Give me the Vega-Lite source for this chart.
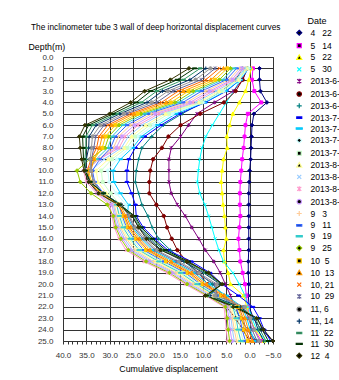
{
"$schema":"https://vega.github.io/schema/vega-lite/v6.json",
"width":210,"height":284,
"autosize":{"type":"none"},
"padding":{"left":63,"top":57,"right":66,"bottom":39},
"background":"white",
"title":{"text":"The inclinometer tube 3 wall of deep horizontal displacement curves","anchor":"start","frame":"group","dx":-32,"dy":18,"fontSize":8.3,"fontWeight":"normal","font":"Liberation Sans","color":"#000","offset":4},
"config":{"font":"Liberation Sans","view":{"stroke":"#333","strokeWidth":1}},
"data":{"values":[
{"s":"4 22","d":1,"v":-2.1},{"s":"4 22","d":2,"v":-2.1},{"s":"4 22","d":3,"v":-2.3},{"s":"4 22","d":4,"v":-3.7},{"s":"4 22","d":5,"v":-0.9},{"s":"4 22","d":6,"v":-0.5},{"s":"4 22","d":7,"v":-0.4},{"s":"4 22","d":8,"v":-0.3},{"s":"4 22","d":9,"v":-0.2},{"s":"4 22","d":10,"v":0.0},{"s":"4 22","d":11,"v":0.1},{"s":"4 22","d":12,"v":0.2},{"s":"4 22","d":13,"v":0.2},{"s":"4 22","d":14,"v":0.2},{"s":"4 22","d":15,"v":0.2},{"s":"4 22","d":16,"v":0.2},{"s":"4 22","d":17,"v":0.2},{"s":"4 22","d":18,"v":0.3},{"s":"4 22","d":19,"v":0.3},{"s":"4 22","d":20,"v":0.2},{"s":"4 22","d":21,"v":0.3},{"s":"4 22","d":22,"v":0.1},{"s":"4 22","d":23,"v":-0.8},{"s":"4 22","d":24,"v":-2.5},{"s":"4 22","d":25,"v":-5.0},
{"s":"5 14","d":1,"v":-0.7},{"s":"5 14","d":2,"v":-0.5},{"s":"5 14","d":3,"v":-1.0},{"s":"5 14","d":4,"v":-2.5},{"s":"5 14","d":5,"v":0.4},{"s":"5 14","d":6,"v":0.9},{"s":"5 14","d":7,"v":1.1},{"s":"5 14","d":8,"v":1.3},{"s":"5 14","d":9,"v":1.6},{"s":"5 14","d":10,"v":1.8},{"s":"5 14","d":11,"v":2.0},{"s":"5 14","d":12,"v":2.1},{"s":"5 14","d":13,"v":2.1},{"s":"5 14","d":14,"v":2.0},{"s":"5 14","d":15,"v":2.2},{"s":"5 14","d":16,"v":2.4},{"s":"5 14","d":17,"v":2.2},{"s":"5 14","d":18,"v":2.0},{"s":"5 14","d":19,"v":1.5},{"s":"5 14","d":20,"v":1.0},{"s":"5 14","d":21,"v":0.7},{"s":"5 14","d":22,"v":0.4},{"s":"5 14","d":23,"v":0.0},{"s":"5 14","d":24,"v":-1.0},{"s":"5 14","d":25,"v":-2.5},
{"s":"5 22","d":1,"v":-0.3},{"s":"5 22","d":2,"v":0.2},{"s":"5 22","d":3,"v":0.9},{"s":"5 22","d":4,"v":2.2},{"s":"5 22","d":5,"v":3.6},{"s":"5 22","d":6,"v":4.3},{"s":"5 22","d":7,"v":4.9},{"s":"5 22","d":8,"v":4.8},{"s":"5 22","d":9,"v":5.6},{"s":"5 22","d":10,"v":5.9},{"s":"5 22","d":11,"v":6.1},{"s":"5 22","d":12,"v":5.9},{"s":"5 22","d":13,"v":5.7},{"s":"5 22","d":14,"v":5.4},{"s":"5 22","d":15,"v":5.2},{"s":"5 22","d":16,"v":5.0},{"s":"5 22","d":17,"v":5.6},{"s":"5 22","d":18,"v":5.4},{"s":"5 22","d":19,"v":4.6},{"s":"5 22","d":20,"v":4.1},{"s":"5 22","d":21,"v":1.3},{"s":"5 22","d":22,"v":0.6},{"s":"5 22","d":23,"v":0.0},{"s":"5 22","d":24,"v":-1.2},{"s":"5 22","d":25,"v":-3.0},
{"s":"5 30","d":1,"v":1.0},{"s":"5 30","d":2,"v":2.0},{"s":"5 30","d":3,"v":3.4},{"s":"5 30","d":4,"v":5.0},{"s":"5 30","d":5,"v":6.5},{"s":"5 30","d":6,"v":8.0},{"s":"5 30","d":7,"v":9.4},{"s":"5 30","d":8,"v":10.2},{"s":"5 30","d":9,"v":10.7},{"s":"5 30","d":10,"v":11.0},{"s":"5 30","d":11,"v":11.2},{"s":"5 30","d":12,"v":10.7},{"s":"5 30","d":13,"v":9.6},{"s":"5 30","d":14,"v":8.8},{"s":"5 30","d":15,"v":8.1},{"s":"5 30","d":16,"v":7.4},{"s":"5 30","d":17,"v":6.6},{"s":"5 30","d":18,"v":5.6},{"s":"5 30","d":19,"v":3.6},{"s":"5 30","d":20,"v":2.2},{"s":"5 30","d":21,"v":1.0},{"s":"5 30","d":22,"v":0.3},{"s":"5 30","d":23,"v":-0.5},{"s":"5 30","d":24,"v":-1.5},{"s":"5 30","d":25,"v":-3.5},
{"s":"2013-6-6","d":1,"v":0.5},{"s":"2013-6-6","d":2,"v":1.5},{"s":"2013-6-6","d":3,"v":3.5},{"s":"2013-6-6","d":4,"v":7.5},{"s":"2013-6-6","d":5,"v":11.3},{"s":"2013-6-6","d":6,"v":13.1},{"s":"2013-6-6","d":7,"v":14.8},{"s":"2013-6-6","d":8,"v":16.8},{"s":"2013-6-6","d":9,"v":17.3},{"s":"2013-6-6","d":10,"v":17.3},{"s":"2013-6-6","d":11,"v":17.3},{"s":"2013-6-6","d":12,"v":16.8},{"s":"2013-6-6","d":13,"v":15.5},{"s":"2013-6-6","d":14,"v":13.8},{"s":"2013-6-6","d":15,"v":12.4},{"s":"2013-6-6","d":16,"v":10.9},{"s":"2013-6-6","d":17,"v":9.5},{"s":"2013-6-6","d":18,"v":7.7},{"s":"2013-6-6","d":19,"v":6.3},{"s":"2013-6-6","d":20,"v":5.2},{"s":"2013-6-6","d":21,"v":4.1},{"s":"2013-6-6","d":22,"v":3.2},{"s":"2013-6-6","d":23,"v":2.0},{"s":"2013-6-6","d":24,"v":0.5},{"s":"2013-6-6","d":25,"v":-1.0},
{"s":"2013-6-14","d":1,"v":0.5},{"s":"2013-6-14","d":2,"v":1.5},{"s":"2013-6-14","d":3,"v":3.0},{"s":"2013-6-14","d":4,"v":5.5},{"s":"2013-6-14","d":5,"v":10.6},{"s":"2013-6-14","d":6,"v":14.8},{"s":"2013-6-14","d":7,"v":17.4},{"s":"2013-6-14","d":8,"v":18.8},{"s":"2013-6-14","d":9,"v":20.7},{"s":"2013-6-14","d":10,"v":21.3},{"s":"2013-6-14","d":11,"v":21.5},{"s":"2013-6-14","d":12,"v":21.5},{"s":"2013-6-14","d":13,"v":20.0},{"s":"2013-6-14","d":14,"v":18.4},{"s":"2013-6-14","d":15,"v":17.7},{"s":"2013-6-14","d":16,"v":16.7},{"s":"2013-6-14","d":17,"v":15.5},{"s":"2013-6-14","d":18,"v":13.5},{"s":"2013-6-14","d":19,"v":11.0},{"s":"2013-6-14","d":20,"v":9.0},{"s":"2013-6-14","d":21,"v":7.0},{"s":"2013-6-14","d":22,"v":5.0},{"s":"2013-6-14","d":23,"v":3.0},{"s":"2013-6-14","d":24,"v":1.5},{"s":"2013-6-14","d":25,"v":0.0},
{"s":"2013-6-22","d":1,"v":1.5},{"s":"2013-6-22","d":2,"v":3.0},{"s":"2013-6-22","d":3,"v":6.0},{"s":"2013-6-22","d":4,"v":10.0},{"s":"2013-6-22","d":5,"v":14.5},{"s":"2013-6-22","d":6,"v":18.5},{"s":"2013-6-22","d":7,"v":21.0},{"s":"2013-6-22","d":8,"v":23.1},{"s":"2013-6-22","d":9,"v":23.8},{"s":"2013-6-22","d":10,"v":24.3},{"s":"2013-6-22","d":11,"v":24.5},{"s":"2013-6-22","d":12,"v":23.8},{"s":"2013-6-22","d":13,"v":23.1},{"s":"2013-6-22","d":14,"v":21.8},{"s":"2013-6-22","d":15,"v":20.9},{"s":"2013-6-22","d":16,"v":19.5},{"s":"2013-6-22","d":17,"v":17.0},{"s":"2013-6-22","d":18,"v":14.0},{"s":"2013-6-22","d":19,"v":11.0},{"s":"2013-6-22","d":20,"v":8.0},{"s":"2013-6-22","d":21,"v":5.5},{"s":"2013-6-22","d":22,"v":3.5},{"s":"2013-6-22","d":23,"v":2.0},{"s":"2013-6-22","d":24,"v":0.5},{"s":"2013-6-22","d":25,"v":-1.5},
{"s":"2013-7-1","d":1,"v":0.2},{"s":"2013-7-1","d":2,"v":2.0},{"s":"2013-7-1","d":3,"v":5.0},{"s":"2013-7-1","d":4,"v":9.5},{"s":"2013-7-1","d":5,"v":15.0},{"s":"2013-7-1","d":6,"v":19.0},{"s":"2013-7-1","d":7,"v":22.5},{"s":"2013-7-1","d":8,"v":24.5},{"s":"2013-7-1","d":9,"v":25.9},{"s":"2013-7-1","d":10,"v":26.3},{"s":"2013-7-1","d":11,"v":26.3},{"s":"2013-7-1","d":12,"v":25.3},{"s":"2013-7-1","d":13,"v":24.5},{"s":"2013-7-1","d":14,"v":24.3},{"s":"2013-7-1","d":15,"v":22.8},{"s":"2013-7-1","d":16,"v":20.4},{"s":"2013-7-1","d":17,"v":17.5},{"s":"2013-7-1","d":18,"v":12.5},{"s":"2013-7-1","d":19,"v":8.5},{"s":"2013-7-1","d":20,"v":5.9},{"s":"2013-7-1","d":21,"v":2.4},{"s":"2013-7-1","d":22,"v":-0.7},{"s":"2013-7-1","d":23,"v":-2.1},{"s":"2013-7-1","d":24,"v":-3.1},{"s":"2013-7-1","d":25,"v":-4.5},
{"s":"2013-7-9","d":1,"v":0.2},{"s":"2013-7-9","d":2,"v":2.0},{"s":"2013-7-9","d":3,"v":5.2},{"s":"2013-7-9","d":4,"v":9.7},{"s":"2013-7-9","d":5,"v":15.8},{"s":"2013-7-9","d":6,"v":19.8},{"s":"2013-7-9","d":7,"v":23.2},{"s":"2013-7-9","d":8,"v":25.1},{"s":"2013-7-9","d":9,"v":27.7},{"s":"2013-7-9","d":10,"v":29.3},{"s":"2013-7-9","d":11,"v":29.1},{"s":"2013-7-9","d":12,"v":27.7},{"s":"2013-7-9","d":13,"v":26.0},{"s":"2013-7-9","d":14,"v":26.2},{"s":"2013-7-9","d":15,"v":25.1},{"s":"2013-7-9","d":16,"v":23.2},{"s":"2013-7-9","d":17,"v":20.8},{"s":"2013-7-9","d":18,"v":16.3},{"s":"2013-7-9","d":19,"v":11.9},{"s":"2013-7-9","d":20,"v":8.8},{"s":"2013-7-9","d":21,"v":5.0},{"s":"2013-7-9","d":22,"v":1.6},{"s":"2013-7-9","d":23,"v":0.6},{"s":"2013-7-9","d":24,"v":-0.1},{"s":"2013-7-9","d":25,"v":-1.1},
{"s":"2013-7-17","d":1,"v":0.3},{"s":"2013-7-17","d":2,"v":2.2},{"s":"2013-7-17","d":3,"v":5.6},{"s":"2013-7-17","d":4,"v":10.0},{"s":"2013-7-17","d":5,"v":16.5},{"s":"2013-7-17","d":6,"v":20.6},{"s":"2013-7-17","d":7,"v":23.9},{"s":"2013-7-17","d":8,"v":25.7},{"s":"2013-7-17","d":9,"v":28.5},{"s":"2013-7-17","d":10,"v":30.4},{"s":"2013-7-17","d":11,"v":30.1},{"s":"2013-7-17","d":12,"v":28.6},{"s":"2013-7-17","d":13,"v":26.5},{"s":"2013-7-17","d":14,"v":26.8},{"s":"2013-7-17","d":15,"v":25.8},{"s":"2013-7-17","d":16,"v":24.0},{"s":"2013-7-17","d":17,"v":21.8},{"s":"2013-7-17","d":18,"v":17.4},{"s":"2013-7-17","d":19,"v":12.9},{"s":"2013-7-17","d":20,"v":9.7},{"s":"2013-7-17","d":21,"v":5.8},{"s":"2013-7-17","d":22,"v":2.3},{"s":"2013-7-17","d":23,"v":1.4},{"s":"2013-7-17","d":24,"v":0.8},{"s":"2013-7-17","d":25,"v":-0.1},
{"s":"2013-7-25","d":1,"v":0.5},{"s":"2013-7-25","d":2,"v":2.3},{"s":"2013-7-25","d":3,"v":6.0},{"s":"2013-7-25","d":4,"v":10.4},{"s":"2013-7-25","d":5,"v":17.3},{"s":"2013-7-25","d":6,"v":21.4},{"s":"2013-7-25","d":7,"v":24.6},{"s":"2013-7-25","d":8,"v":26.3},{"s":"2013-7-25","d":9,"v":29.5},{"s":"2013-7-25","d":10,"v":31.8},{"s":"2013-7-25","d":11,"v":31.5},{"s":"2013-7-25","d":12,"v":29.8},{"s":"2013-7-25","d":13,"v":27.8},{"s":"2013-7-25","d":14,"v":27.6},{"s":"2013-7-25","d":15,"v":26.7},{"s":"2013-7-25","d":16,"v":25.2},{"s":"2013-7-25","d":17,"v":23.2},{"s":"2013-7-25","d":18,"v":19.0},{"s":"2013-7-25","d":19,"v":14.3},{"s":"2013-7-25","d":20,"v":10.9},{"s":"2013-7-25","d":21,"v":6.9},{"s":"2013-7-25","d":22,"v":3.2},{"s":"2013-7-25","d":23,"v":2.5},{"s":"2013-7-25","d":24,"v":2.0},{"s":"2013-7-25","d":25,"v":1.4},
{"s":"2013-8-2","d":1,"v":0.7},{"s":"2013-8-2","d":2,"v":2.6},{"s":"2013-8-2","d":3,"v":6.6},{"s":"2013-8-2","d":4,"v":10.9},{"s":"2013-8-2","d":5,"v":18.0},{"s":"2013-8-2","d":6,"v":22.3},{"s":"2013-8-2","d":7,"v":25.3},{"s":"2013-8-2","d":8,"v":26.9},{"s":"2013-8-2","d":9,"v":30.3},{"s":"2013-8-2","d":10,"v":32.9},{"s":"2013-8-2","d":11,"v":32.5},{"s":"2013-8-2","d":12,"v":30.7},{"s":"2013-8-2","d":13,"v":28.5},{"s":"2013-8-2","d":14,"v":28.1},{"s":"2013-8-2","d":15,"v":27.4},{"s":"2013-8-2","d":16,"v":26.0},{"s":"2013-8-2","d":17,"v":24.1},{"s":"2013-8-2","d":18,"v":20.0},{"s":"2013-8-2","d":19,"v":15.3},{"s":"2013-8-2","d":20,"v":11.7},{"s":"2013-8-2","d":21,"v":7.6},{"s":"2013-8-2","d":22,"v":3.9},{"s":"2013-8-2","d":23,"v":3.3},{"s":"2013-8-2","d":24,"v":2.9},{"s":"2013-8-2","d":25,"v":2.4},
{"s":"2013-8-10","d":1,"v":1.0},{"s":"2013-8-10","d":2,"v":2.9},{"s":"2013-8-10","d":3,"v":7.2},{"s":"2013-8-10","d":4,"v":11.5},{"s":"2013-8-10","d":5,"v":18.8},{"s":"2013-8-10","d":6,"v":23.1},{"s":"2013-8-10","d":7,"v":26.0},{"s":"2013-8-10","d":8,"v":27.5},{"s":"2013-8-10","d":9,"v":31.2},{"s":"2013-8-10","d":10,"v":34.0},{"s":"2013-8-10","d":11,"v":33.5},{"s":"2013-8-10","d":12,"v":31.6},{"s":"2013-8-10","d":13,"v":29.2},{"s":"2013-8-10","d":14,"v":28.7},{"s":"2013-8-10","d":15,"v":28.0},{"s":"2013-8-10","d":16,"v":26.8},{"s":"2013-8-10","d":17,"v":25.1},{"s":"2013-8-10","d":18,"v":21.1},{"s":"2013-8-10","d":19,"v":16.2},{"s":"2013-8-10","d":20,"v":12.6},{"s":"2013-8-10","d":21,"v":8.4},{"s":"2013-8-10","d":22,"v":4.5},{"s":"2013-8-10","d":23,"v":4.0},{"s":"2013-8-10","d":24,"v":3.7},{"s":"2013-8-10","d":25,"v":3.3},
{"s":"2013-8-18","d":1,"v":1.4},{"s":"2013-8-18","d":2,"v":3.4},{"s":"2013-8-18","d":3,"v":7.9},{"s":"2013-8-18","d":4,"v":12.1},{"s":"2013-8-18","d":5,"v":19.5},{"s":"2013-8-18","d":6,"v":23.9},{"s":"2013-8-18","d":7,"v":26.7},{"s":"2013-8-18","d":8,"v":28.0},{"s":"2013-8-18","d":9,"v":32.2},{"s":"2013-8-18","d":10,"v":35.6},{"s":"2013-8-18","d":11,"v":35.0},{"s":"2013-8-18","d":12,"v":32.8},{"s":"2013-8-18","d":13,"v":30.0},{"s":"2013-8-18","d":14,"v":29.5},{"s":"2013-8-18","d":15,"v":29.0},{"s":"2013-8-18","d":16,"v":28.0},{"s":"2013-8-18","d":17,"v":26.5},{"s":"2013-8-18","d":18,"v":22.7},{"s":"2013-8-18","d":19,"v":17.7},{"s":"2013-8-18","d":20,"v":13.8},{"s":"2013-8-18","d":21,"v":9.5},{"s":"2013-8-18","d":22,"v":5.5},{"s":"2013-8-18","d":23,"v":5.2},{"s":"2013-8-18","d":24,"v":5.0},{"s":"2013-8-18","d":25,"v":4.8},
{"s":"2013-8-26","d":1,"v":1.8},{"s":"2013-8-26","d":2,"v":3.8},{"s":"2013-8-26","d":3,"v":8.6},{"s":"2013-8-26","d":4,"v":12.8},{"s":"2013-8-26","d":5,"v":20.3},{"s":"2013-8-26","d":6,"v":24.7},{"s":"2013-8-26","d":7,"v":27.4},{"s":"2013-8-26","d":8,"v":28.6},{"s":"2013-8-26","d":9,"v":32.3},{"s":"2013-8-26","d":10,"v":35.1},{"s":"2013-8-26","d":11,"v":34.5},{"s":"2013-8-26","d":12,"v":32.5},{"s":"2013-8-26","d":13,"v":29.5},{"s":"2013-8-26","d":14,"v":29.0},{"s":"2013-8-26","d":15,"v":28.4},{"s":"2013-8-26","d":16,"v":27.2},{"s":"2013-8-26","d":17,"v":25.6},{"s":"2013-8-26","d":18,"v":21.6},{"s":"2013-8-26","d":19,"v":16.7},{"s":"2013-8-26","d":20,"v":13.0},{"s":"2013-8-26","d":21,"v":8.8},{"s":"2013-8-26","d":22,"v":4.9},{"s":"2013-8-26","d":23,"v":4.4},{"s":"2013-8-26","d":24,"v":4.2},{"s":"2013-8-26","d":25,"v":3.8},
{"s":"9 3","d":1,"v":2.2},{"s":"9 3","d":2,"v":4.4},{"s":"9 3","d":3,"v":9.4},{"s":"9 3","d":4,"v":13.5},{"s":"9 3","d":5,"v":21.0},{"s":"9 3","d":6,"v":25.5},{"s":"9 3","d":7,"v":28.1},{"s":"9 3","d":8,"v":29.2},{"s":"9 3","d":9,"v":32.4},{"s":"9 3","d":10,"v":34.8},{"s":"9 3","d":11,"v":34.2},{"s":"9 3","d":12,"v":32.2},{"s":"9 3","d":13,"v":29.0},{"s":"9 3","d":14,"v":28.4},{"s":"9 3","d":15,"v":27.7},{"s":"9 3","d":16,"v":26.4},{"s":"9 3","d":17,"v":24.6},{"s":"9 3","d":18,"v":20.6},{"s":"9 3","d":19,"v":15.8},{"s":"9 3","d":20,"v":12.1},{"s":"9 3","d":21,"v":8.0},{"s":"9 3","d":22,"v":4.2},{"s":"9 3","d":23,"v":3.7},{"s":"9 3","d":24,"v":3.3},{"s":"9 3","d":25,"v":2.8},
{"s":"9 11","d":1,"v":2.8},{"s":"9 11","d":2,"v":5.0},{"s":"9 11","d":3,"v":10.3},{"s":"9 11","d":4,"v":14.3},{"s":"9 11","d":5,"v":21.8},{"s":"9 11","d":6,"v":26.3},{"s":"9 11","d":7,"v":28.8},{"s":"9 11","d":8,"v":29.8},{"s":"9 11","d":9,"v":32.1},{"s":"9 11","d":10,"v":33.7},{"s":"9 11","d":11,"v":33.2},{"s":"9 11","d":12,"v":31.3},{"s":"9 11","d":13,"v":28.0},{"s":"9 11","d":14,"v":27.3},{"s":"9 11","d":15,"v":26.4},{"s":"9 11","d":16,"v":24.8},{"s":"9 11","d":17,"v":22.7},{"s":"9 11","d":18,"v":18.4},{"s":"9 11","d":19,"v":13.8},{"s":"9 11","d":20,"v":10.5},{"s":"9 11","d":21,"v":6.5},{"s":"9 11","d":22,"v":2.9},{"s":"9 11","d":23,"v":2.1},{"s":"9 11","d":24,"v":1.6},{"s":"9 11","d":25,"v":0.9},
{"s":"9 19","d":1,"v":3.4},{"s":"9 19","d":2,"v":5.8},{"s":"9 19","d":3,"v":11.2},{"s":"9 19","d":4,"v":15.2},{"s":"9 19","d":5,"v":22.5},{"s":"9 19","d":6,"v":27.2},{"s":"9 19","d":7,"v":29.5},{"s":"9 19","d":8,"v":30.4},{"s":"9 19","d":9,"v":32.9},{"s":"9 19","d":10,"v":34.8},{"s":"9 19","d":11,"v":34.2},{"s":"9 19","d":12,"v":32.2},{"s":"9 19","d":13,"v":28.5},{"s":"9 19","d":14,"v":27.9},{"s":"9 19","d":15,"v":27.1},{"s":"9 19","d":16,"v":25.6},{"s":"9 19","d":17,"v":23.7},{"s":"9 19","d":18,"v":19.5},{"s":"9 19","d":19,"v":14.8},{"s":"9 19","d":20,"v":11.3},{"s":"9 19","d":21,"v":7.3},{"s":"9 19","d":22,"v":3.6},{"s":"9 19","d":23,"v":2.9},{"s":"9 19","d":24,"v":2.5},{"s":"9 19","d":25,"v":1.9},
{"s":"9 25","d":1,"v":4.1},{"s":"9 25","d":2,"v":6.5},{"s":"9 25","d":3,"v":12.1},{"s":"9 25","d":4,"v":16.0},{"s":"9 25","d":5,"v":23.3},{"s":"9 25","d":6,"v":28.0},{"s":"9 25","d":7,"v":30.2},{"s":"9 25","d":8,"v":31.0},{"s":"9 25","d":9,"v":34.3},{"s":"9 25","d":10,"v":37.0},{"s":"9 25","d":11,"v":36.3},{"s":"9 25","d":12,"v":34.0},{"s":"9 25","d":13,"v":30.5},{"s":"9 25","d":14,"v":29.2},{"s":"9 25","d":15,"v":28.7},{"s":"9 25","d":16,"v":27.6},{"s":"9 25","d":17,"v":26.0},{"s":"9 25","d":18,"v":22.2},{"s":"9 25","d":19,"v":17.2},{"s":"9 25","d":20,"v":13.4},{"s":"9 25","d":21,"v":9.1},{"s":"9 25","d":22,"v":5.2},{"s":"9 25","d":23,"v":4.8},{"s":"9 25","d":24,"v":4.6},{"s":"9 25","d":25,"v":4.3},
{"s":"10 5","d":1,"v":4.8},{"s":"10 5","d":2,"v":7.4},{"s":"10 5","d":3,"v":13.1},{"s":"10 5","d":4,"v":16.9},{"s":"10 5","d":5,"v":24.0},{"s":"10 5","d":6,"v":28.8},{"s":"10 5","d":7,"v":30.9},{"s":"10 5","d":8,"v":31.6},{"s":"10 5","d":9,"v":33.3},{"s":"10 5","d":10,"v":34.5},{"s":"10 5","d":11,"v":33.9},{"s":"10 5","d":12,"v":31.9},{"s":"10 5","d":13,"v":28.0},{"s":"10 5","d":14,"v":27.0},{"s":"10 5","d":15,"v":26.1},{"s":"10 5","d":16,"v":24.4},{"s":"10 5","d":17,"v":22.2},{"s":"10 5","d":18,"v":17.9},{"s":"10 5","d":19,"v":13.3},{"s":"10 5","d":20,"v":10.1},{"s":"10 5","d":21,"v":6.1},{"s":"10 5","d":22,"v":2.6},{"s":"10 5","d":23,"v":1.7},{"s":"10 5","d":24,"v":1.2},{"s":"10 5","d":25,"v":0.4},
{"s":"10 13","d":1,"v":5.6},{"s":"10 13","d":2,"v":8.3},{"s":"10 13","d":3,"v":14.2},{"s":"10 13","d":4,"v":17.9},{"s":"10 13","d":5,"v":24.8},{"s":"10 13","d":6,"v":29.6},{"s":"10 13","d":7,"v":31.6},{"s":"10 13","d":8,"v":32.2},{"s":"10 13","d":9,"v":33.4},{"s":"10 13","d":10,"v":34.0},{"s":"10 13","d":11,"v":33.5},{"s":"10 13","d":12,"v":31.6},{"s":"10 13","d":13,"v":27.8},{"s":"10 13","d":14,"v":26.5},{"s":"10 13","d":15,"v":25.4},{"s":"10 13","d":16,"v":23.6},{"s":"10 13","d":17,"v":21.3},{"s":"10 13","d":18,"v":16.8},{"s":"10 13","d":19,"v":12.4},{"s":"10 13","d":20,"v":9.2},{"s":"10 13","d":21,"v":5.4},{"s":"10 13","d":22,"v":1.9},{"s":"10 13","d":23,"v":1.0},{"s":"10 13","d":24,"v":0.3},{"s":"10 13","d":25,"v":-0.6},
{"s":"10, 21","d":1,"v":6.5},{"s":"10, 21","d":2,"v":9.4},{"s":"10, 21","d":3,"v":15.3},{"s":"10, 21","d":4,"v":18.9},{"s":"10, 21","d":5,"v":25.5},{"s":"10, 21","d":6,"v":30.4},{"s":"10, 21","d":7,"v":32.3},{"s":"10, 21","d":8,"v":32.8},{"s":"10, 21","d":9,"v":34.0},{"s":"10, 21","d":10,"v":34.8},{"s":"10, 21","d":11,"v":34.2},{"s":"10, 21","d":12,"v":32.2},{"s":"10, 21","d":13,"v":28.2},{"s":"10, 21","d":14,"v":26.8},{"s":"10, 21","d":15,"v":25.8},{"s":"10, 21","d":16,"v":24.0},{"s":"10, 21","d":17,"v":21.8},{"s":"10, 21","d":18,"v":17.4},{"s":"10, 21","d":19,"v":12.9},{"s":"10, 21","d":20,"v":9.7},{"s":"10, 21","d":21,"v":5.8},{"s":"10, 21","d":22,"v":2.3},{"s":"10, 21","d":23,"v":1.4},{"s":"10, 21","d":24,"v":0.8},{"s":"10, 21","d":25,"v":-0.1},
{"s":"10 29","d":1,"v":7.4},{"s":"10 29","d":2,"v":10.4},{"s":"10 29","d":3,"v":16.4},{"s":"10 29","d":4,"v":19.9},{"s":"10 29","d":5,"v":26.3},{"s":"10 29","d":6,"v":31.2},{"s":"10 29","d":7,"v":33.0},{"s":"10 29","d":8,"v":33.4},{"s":"10 29","d":9,"v":33.9},{"s":"10 29","d":10,"v":34.0},{"s":"10 29","d":11,"v":33.5},{"s":"10 29","d":12,"v":31.6},{"s":"10 29","d":13,"v":27.5},{"s":"10 29","d":14,"v":25.9},{"s":"10 29","d":15,"v":24.8},{"s":"10 29","d":16,"v":22.8},{"s":"10 29","d":17,"v":20.3},{"s":"10 29","d":18,"v":15.7},{"s":"10 29","d":19,"v":11.4},{"s":"10 29","d":20,"v":7.5},{"s":"10 29","d":21,"v":7.0},{"s":"10 29","d":22,"v":1.3},{"s":"10 29","d":23,"v":0.2},{"s":"10 29","d":24,"v":-0.5},{"s":"10 29","d":25,"v":-1.6},
{"s":"11, 6","d":1,"v":8.4},{"s":"11, 6","d":2,"v":11.6},{"s":"11, 6","d":3,"v":17.5},{"s":"11, 6","d":4,"v":21.0},{"s":"11, 6","d":5,"v":27.0},{"s":"11, 6","d":6,"v":32.0},{"s":"11, 6","d":7,"v":33.7},{"s":"11, 6","d":8,"v":33.9},{"s":"11, 6","d":9,"v":34.2},{"s":"11, 6","d":10,"v":34.0},{"s":"11, 6","d":11,"v":33.5},{"s":"11, 6","d":12,"v":31.6},{"s":"11, 6","d":13,"v":27.6},{"s":"11, 6","d":14,"v":25.7},{"s":"11, 6","d":15,"v":24.5},{"s":"11, 6","d":16,"v":22.4},{"s":"11, 6","d":17,"v":19.9},{"s":"11, 6","d":18,"v":15.2},{"s":"11, 6","d":19,"v":10.9},{"s":"11, 6","d":20,"v":7.0},{"s":"11, 6","d":21,"v":7.5},{"s":"11, 6","d":22,"v":1.0},{"s":"11, 6","d":23,"v":-0.2},{"s":"11, 6","d":24,"v":-1.0},{"s":"11, 6","d":25,"v":-2.1},
{"s":"11, 14","d":1,"v":9.4},{"s":"11, 14","d":2,"v":12.8},{"s":"11, 14","d":3,"v":18.7},{"s":"11, 14","d":4,"v":22.0},{"s":"11, 14","d":5,"v":27.8},{"s":"11, 14","d":6,"v":32.9},{"s":"11, 14","d":7,"v":34.4},{"s":"11, 14","d":8,"v":34.5},{"s":"11, 14","d":9,"v":35.0},{"s":"11, 14","d":10,"v":35.2},{"s":"11, 14","d":11,"v":34.2},{"s":"11, 14","d":12,"v":31.3},{"s":"11, 14","d":13,"v":27.6},{"s":"11, 14","d":14,"v":25.1},{"s":"11, 14","d":15,"v":23.8},{"s":"11, 14","d":16,"v":21.6},{"s":"11, 14","d":17,"v":18.9},{"s":"11, 14","d":18,"v":14.1},{"s":"11, 14","d":19,"v":9.9},{"s":"11, 14","d":20,"v":6.3},{"s":"11, 14","d":21,"v":8.5},{"s":"11, 14","d":22,"v":2.0},{"s":"11, 14","d":23,"v":-1.0},{"s":"11, 14","d":24,"v":-1.8},{"s":"11, 14","d":25,"v":-3.0},
{"s":"11 22","d":1,"v":10.6},{"s":"11 22","d":2,"v":14.2},{"s":"11 22","d":3,"v":19.9},{"s":"11 22","d":4,"v":23.2},{"s":"11 22","d":5,"v":28.5},{"s":"11 22","d":6,"v":33.7},{"s":"11 22","d":7,"v":35.1},{"s":"11 22","d":8,"v":35.1},{"s":"11 22","d":9,"v":35.3},{"s":"11 22","d":10,"v":35.2},{"s":"11 22","d":11,"v":34.2},{"s":"11 22","d":12,"v":31.3},{"s":"11 22","d":13,"v":27.8},{"s":"11 22","d":14,"v":24.8},{"s":"11 22","d":15,"v":23.5},{"s":"11 22","d":16,"v":21.2},{"s":"11 22","d":17,"v":18.4},{"s":"11 22","d":18,"v":13.6},{"s":"11 22","d":19,"v":9.5},{"s":"11 22","d":20,"v":6.0},{"s":"11 22","d":21,"v":9.0},{"s":"11 22","d":22,"v":2.5},{"s":"11 22","d":23,"v":-1.3},{"s":"11 22","d":24,"v":-2.2},{"s":"11 22","d":25,"v":-3.5},
{"s":"11 30","d":1,"v":11.8},{"s":"11 30","d":2,"v":15.5},{"s":"11 30","d":3,"v":21.2},{"s":"11 30","d":4,"v":24.3},{"s":"11 30","d":5,"v":29.3},{"s":"11 30","d":6,"v":34.5},{"s":"11 30","d":7,"v":35.8},{"s":"11 30","d":8,"v":35.7},{"s":"11 30","d":9,"v":35.6},{"s":"11 30","d":10,"v":35.2},{"s":"11 30","d":11,"v":34.2},{"s":"11 30","d":12,"v":31.3},{"s":"11 30","d":13,"v":27.9},{"s":"11 30","d":14,"v":24.6},{"s":"11 30","d":15,"v":23.2},{"s":"11 30","d":16,"v":20.8},{"s":"11 30","d":17,"v":18.0},{"s":"11 30","d":18,"v":13.1},{"s":"11 30","d":19,"v":9.0},{"s":"11 30","d":20,"v":5.9},{"s":"11 30","d":21,"v":9.3},{"s":"11 30","d":22,"v":3.0},{"s":"11 30","d":23,"v":-1.7},{"s":"11 30","d":24,"v":-2.7},{"s":"11 30","d":25,"v":-4.0},
{"s":"12 4","d":1,"v":13.0},{"s":"12 4","d":2,"v":17.0},{"s":"12 4","d":3,"v":22.5},{"s":"12 4","d":4,"v":25.5},{"s":"12 4","d":5,"v":30.0},{"s":"12 4","d":6,"v":35.3},{"s":"12 4","d":7,"v":36.5},{"s":"12 4","d":8,"v":36.3},{"s":"12 4","d":9,"v":36.0},{"s":"12 4","d":10,"v":35.5},{"s":"12 4","d":11,"v":34.5},{"s":"12 4","d":12,"v":32.4},{"s":"12 4","d":13,"v":28.1},{"s":"12 4","d":14,"v":25.2},{"s":"12 4","d":15,"v":23.8},{"s":"12 4","d":16,"v":22.1},{"s":"12 4","d":17,"v":19.1},{"s":"12 4","d":18,"v":13.5},{"s":"12 4","d":19,"v":8.8},{"s":"12 4","d":20,"v":5.9},{"s":"12 4","d":21,"v":9.5},{"s":"12 4","d":22,"v":3.5},{"s":"12 4","d":23,"v":-1.5},{"s":"12 4","d":24,"v":-3.0},{"s":"12 4","d":25,"v":-5.0}
]},
"layer":[
{"mark":{"type":"line","strokeWidth":1},
 "encoding":{
  "x":{"field":"v","type":"quantitative","scale":{"domain":[-5,40],"reverse":true,"nice":false,"zero":false},
       "axis":{"orient":"bottom","values":[-5,0,5,10,15,20,25,30,35,40],"format":".1f","grid":true,"gridColor":"#333","gridWidth":1,"ticks":false,"domain":false,"labelFontSize":8,"labelColor":"#333","labelPadding":10,"labelFlush":false,"labelOverlap":false,"title":"Cumulative displacement","titleFontSize":8.8,"titleFontWeight":"normal","titleColor":"#000","titlePadding":5}},
  "y":{"field":"d","type":"quantitative","scale":{"domain":[0,25],"reverse":true,"nice":false,"zero":false},
       "axis":{"values":[0,1,2,3,4,5,6,7,8,9,10,11,12,13,14,15,16,17,18,19,20,21,22,23,24,25],"tickCount":26,"format":".1f","grid":true,"gridColor":"#333","gridWidth":1,"ticks":false,"domain":false,"labelFontSize":8,"labelColor":"#333","labelPadding":10,"labelFlush":false,"labelOverlap":false,"labelBound":false,"title":"Depth(m)","titleAngle":0,"titleX":-35,"titleY":-11,"titleAlign":"left","titleBaseline":"middle","titleFontSize":8.8,"titleFontWeight":"normal","titleColor":"#000"}},
  "color":{"field":"s","type":"nominal",
    "scale":{"domain":["4 22","5 14","5 22","5 30","2013-6-6","2013-6-14","2013-6-22","2013-7-1","2013-7-9","2013-7-17","2013-7-25","2013-8-2","2013-8-10","2013-8-18","2013-8-26","9 3","9 11","9 19","9 25","10 5","10 13","10, 21","10 29","11, 6","11, 14","11 22","11 30","12 4"],
             "range":["#000080","#FF00FF","#FFFF00","#00FFFF","#800080","#800000","#008080","#0000FF","#00CCFF","#CCFFFF","#CCFFCC","#FFFF99","#99CCFF","#FF99CC","#CC99FF","#FFCC99","#3366FF","#33CCCC","#99CC00","#FFCC00","#FF9900","#FF6600","#666699","#969696","#003366","#339966","#003300","#333300"]},
    "legend":null},
  "order":{"field":"d","type":"quantitative"},
  "strokeWidth":{"condition":{"test":"datum.s==='4 22'||datum.s==='5 14'","value":2},"value":1}
 }},
{"mark":{"type":"point","filled":true,"size":14,"opacity":1,"strokeWidth":1},
 "encoding":{
  "x":{"field":"v","type":"quantitative","axis":{"orient":"bottom","values":[-5,-4,-3,-2,-1,0,1,2,3,4,5,6,7,8,9,10,11,12,13,14,15,16,17,18,19,20,21,22,23,24,25,26,27,28,29,30,31,32,33,34,35,36,37,38,39,40],"labels":false,"grid":false,"domain":false,"ticks":true,"tickSize":3,"tickColor":"#333","title":null}},
  "y":{"field":"d","type":"quantitative",
       "axis":{"values":[0,1,2,3,4,5,6,7,8,9,10,11,12,13,14,15,16,17,18,19,20,21,22,23,24,25],"tickCount":26,"format":".1f","grid":true,"gridColor":"#333","gridWidth":1,"ticks":false,"domain":false,"labelFontSize":8,"labelColor":"#333","labelPadding":10,"labelFlush":false,"labelOverlap":false,"labelBound":false,"title":"Depth(m)","titleAngle":0,"titleX":-35,"titleY":-11,"titleAlign":"left","titleBaseline":"middle","titleFontSize":8.8,"titleFontWeight":"normal","titleColor":"#000"}},
  "color":{"field":"s","type":"nominal","legend":null},
  "shape":{"field":"s","type":"nominal",
    "scale":{"domain":["4 22","5 14","5 22","5 30","2013-6-6","2013-6-14","2013-6-22","2013-7-1","2013-7-9","2013-7-17","2013-7-25","2013-8-2","2013-8-10","2013-8-18","2013-8-26","9 3","9 11","9 19","9 25","10 5","10 13","10, 21","10 29","11, 6","11, 14","11 22","11 30","12 4"],
             "range":["M0,-1L1,0L0,1L-1,0Z","M-0.8,-0.8H0.8V0.8H-0.8Z","M0,-1L1,0.8H-1Z","M-0.8,-0.8L0.8,0.8M-0.8,0.8L0.8,-0.8","M-0.8,-0.8L0.8,0.8M-0.8,0.8L0.8,-0.8M0,-1L0,1","M-0.9,0A0.9,0.9,0,1,0,0.9,0A0.9,0.9,0,1,0,-0.9,0Z","M-1,0L1,0M0,-1L0,1","M-1,-0.3H1V0.3H-1Z","M-1.2,-0.25H1.2V0.25H-1.2Z",
                      "M0,-1L1,0L0,1L-1,0Z","M-0.8,-0.8H0.8V0.8H-0.8Z","M0,-1L1,0.8H-1Z","M-0.8,-0.8L0.8,0.8M-0.8,0.8L0.8,-0.8","M-0.8,-0.8L0.8,0.8M-0.8,0.8L0.8,-0.8M0,-1L0,1","M-0.9,0A0.9,0.9,0,1,0,0.9,0A0.9,0.9,0,1,0,-0.9,0Z","M-1,0L1,0M0,-1L0,1","M-1,-0.3H1V0.3H-1Z","M-1.2,-0.25H1.2V0.25H-1.2Z",
                      "M0,-1L1,0L0,1L-1,0Z","M-0.8,-0.8H0.8V0.8H-0.8Z","M0,-1L1,0.8H-1Z","M-0.8,-0.8L0.8,0.8M-0.8,0.8L0.8,-0.8","M-0.8,-0.8L0.8,0.8M-0.8,0.8L0.8,-0.8M0,-1L0,1","M-0.9,0A0.9,0.9,0,1,0,0.9,0A0.9,0.9,0,1,0,-0.9,0Z","M-1,0L1,0M0,-1L0,1","M-1,-0.3H1V0.3H-1Z","M-1.2,-0.25H1.2V0.25H-1.2Z",
                      "M0,-1L1,0L0,1L-1,0Z"]},
    "legend":{"orient":"none","legendX":232,"legendY":-40,"padding":0,"title":"Date","titleFontSize":9,"titleFontWeight":"normal","titleColor":"#000","titleAnchor":"middle","titlePadding":2.5,"labelFontSize":8.5,"labelColor":"#000","labelLimit":80,"labelOffset":7,"rowPadding":1.85,"symbolSize":25,"symbolStrokeWidth":1.2,
      "labelExpr":"indexof(datum.label,'2013')==0 ? slice(datum.label,0,7) : (length(split(datum.label,' ')[0])==1 ? replace(datum.label,' ','\u00a0\u00a0\u00a0') : (indexof(datum.label,',')>=0 ? replace(datum.label,' ','\u00a0') : replace(datum.label,' ','\u00a0\u00a0')))",
      "encode":{"symbols":{"update":{"shape":{"signal":"'M-3,0H3' + scale('shape', datum.value)"},"fill":{"signal":"scale('color', datum.value)"},"stroke":{"signal":"scale('stroke', datum.value)"},"strokeWidth":{"value":1.2},"opacity":{"value":1}}}}}},
  "stroke":{"field":"s","type":"nominal",
    "scale":{"domain":["4 22","5 14","5 22","5 30","2013-6-6","2013-6-14","2013-6-22","2013-7-1","2013-7-9","2013-7-17","2013-7-25","2013-8-2","2013-8-10","2013-8-18","2013-8-26","9 3","9 11","9 19","9 25","10 5","10 13","10, 21","10 29","11, 6","11, 14","11 22","11 30","12 4"],
             "range":["#000080","#FF00FF","#FFFF00","#00FFFF","#800080","#800000","#008080","#0000FF","#00CCFF","#CCFFFF","#CCFFCC","#FFFF99","#99CCFF","#FF99CC","#CC99FF","#FFCC99","#3366FF","#33CCCC","#99CC00","#FFCC00","#FF9900","#FF6600","#666699","#969696","#003366","#339966","#003300","#333300"]},
    "legend":null}
 }}
],
"resolve":{"legend":{"color":"independent"},"axis":{"x":"independent"}}
}
